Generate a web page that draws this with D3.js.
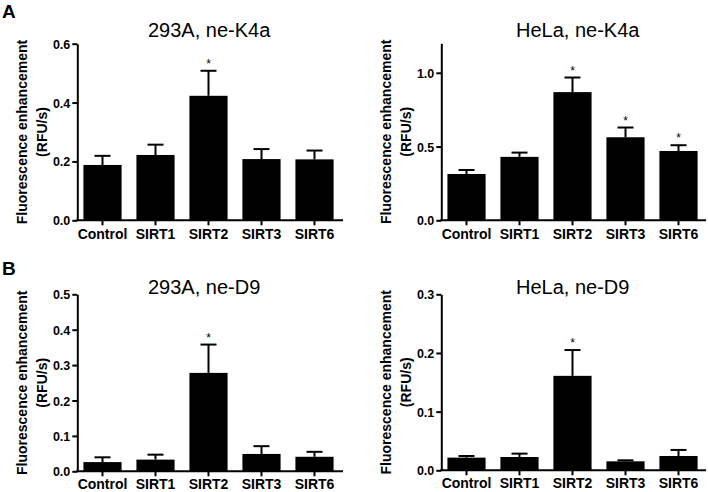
<!DOCTYPE html>
<html>
<head>
<meta charset="utf-8">
<script src="https://cdn.jsdelivr.net/npm/d3@7"></script>
<style>
  html, body { margin: 0; padding: 0; background: #fff; }
  svg { display: block; font-family: Arial, "Liberation Sans", Helvetica, sans-serif; }
</style>
</head>
<body>
<svg id="chart" width="708" height="492"></svg>
<script>
const categories = ["Control", "SIRT1", "SIRT2", "SIRT3", "SIRT6"];

const k4a293Mean = [0.188, 0.222, 0.423, 0.208, 0.207];
const k4a293Err  = [0.031, 0.035, 0.085, 0.034, 0.030];
const k4a293Sig  = [false, false, true, false, false];

const k4aHelaMean = [0.314, 0.430, 0.869, 0.563, 0.470];
const k4aHelaErr  = [0.027, 0.029, 0.099, 0.066, 0.039];
const k4aHelaSig  = [false, false, true, true, true];

const d9293Mean = [0.026, 0.033, 0.278, 0.049, 0.041];
const d9293Err  = [0.0135, 0.014, 0.080, 0.022, 0.014];
const d9293Sig  = [false, false, true, false, false];

const d9HelaMean = [0.0216, 0.0227, 0.161, 0.0153, 0.0244];
const d9HelaErr  = [0.0028, 0.0057, 0.044, 0.0017, 0.0103];
const d9HelaSig  = [false, false, true, false, false];

const k4a293Ticks  = [0, 0.2, 0.4, 0.6];
const k4aHelaTicks = [0, 0.5, 1.0];
const d9293Ticks   = [0, 0.1, 0.2, 0.3, 0.4, 0.5];
const d9HelaTicks  = [0, 0.1, 0.2, 0.3];

const yLabel1 = "Fluorescence enhancement";
const yLabel2 = "(RFU/s)";

const svg = d3.select("#chart");

const panels = [
  { title: "293A, ne-K4a", letter: "A", mean: k4a293Mean, err: k4a293Err, sig: k4a293Sig,
    ticks: k4a293Ticks, ymax: 0.6, ax: 77.3, x1: 343, y0: 220.3, yTop: 43.7, titleX: 148, titleY: 37, xPad: 4 },
  { title: "HeLa, ne-K4a", letter: null, mean: k4aHelaMean, err: k4aHelaErr, sig: k4aHelaSig,
    ticks: k4aHelaTicks, ymax: 1.2, ax: 441.3, x1: 706, y0: 220.3, yTop: 43.3, titleX: 516, titleY: 37, xPad: 4 },
  { title: "293A, ne-D9", letter: "B", mean: d9293Mean, err: d9293Err, sig: d9293Sig,
    ticks: d9293Ticks, ymax: 0.5, ax: 77.3, x1: 343, y0: 471.3, yTop: 294.3, titleX: 148, titleY: 294, xPad: 3 },
  { title: "HeLa, ne-D9", letter: null, mean: d9HelaMean, err: d9HelaErr, sig: d9HelaSig,
    ticks: d9HelaTicks, ymax: 0.3, ax: 441.3, x1: 706, y0: 470.3, yTop: 294.3, titleX: 516, titleY: 294, xPad: 3 }
];

panels.forEach((p) => {
  const g = svg.append("g");
  const x = d3.scaleBand().domain(categories)
    .range([p.ax - 1.3, p.ax - 1.3 + 265]).paddingInner(0.28).paddingOuter(0.14);
  const y = d3.scaleLinear().domain([0, p.ymax]).range([p.y0, p.yTop]);

  const data = categories.map((c, i) => ({ c, m: p.mean[i], e: p.err[i], s: p.sig[i] }));

  // error bars (upper only)
  const capW = 16;
  g.selectAll(".stem").data(data).join("line")
    .attr("x1", d => x(d.c) + x.bandwidth() / 2).attr("x2", d => x(d.c) + x.bandwidth() / 2)
    .attr("y1", d => y(d.m)).attr("y2", d => y(d.m + d.e))
    .attr("stroke", "#000").attr("stroke-width", 2);
  g.selectAll(".cap").data(data).join("line")
    .attr("x1", d => x(d.c) + x.bandwidth() / 2 - capW / 2).attr("x2", d => x(d.c) + x.bandwidth() / 2 + capW / 2)
    .attr("y1", d => y(d.m + d.e)).attr("y2", d => y(d.m + d.e))
    .attr("stroke", "#000").attr("stroke-width", 2);

  // bars
  g.selectAll(".bar").data(data).join("rect")
    .attr("x", d => x(d.c)).attr("width", x.bandwidth())
    .attr("y", d => y(d.m)).attr("height", d => y(0) - y(d.m))
    .attr("fill", "#000");

  // significance stars
  g.selectAll(".star").data(data.filter(d => d.s)).join("text")
    .attr("x", d => x(d.c) + x.bandwidth() / 2).attr("y", d => y(d.m + d.e) - 3)
    .attr("text-anchor", "middle").attr("font-size", 12).text("*");

  // y axis
  const yAxis = d3.axisLeft(y).tickValues(p.ticks).tickFormat(d3.format(".1f"))
    .tickSize(5).tickSizeOuter(0).tickPadding(2);
  const ya = g.append("g").attr("transform", `translate(${p.ax},0)`).call(yAxis);
  ya.select(".domain").attr("stroke-width", 2);
  ya.selectAll(".tick line").attr("stroke-width", 2);
  ya.selectAll(".tick text").attr("font-size", 12.5).attr("font-weight", "bold")
    .attr("font-family", "Arial, 'Liberation Sans', sans-serif").attr("dy", "0.36em");

  // x axis
  const xAxis = d3.axisBottom(x).tickSize(5).tickSizeOuter(0).tickPadding(p.xPad);
  const xa = g.append("g").attr("transform", `translate(0,${p.y0})`).call(xAxis);
  xa.select(".domain").attr("d", `M${p.ax - 1},0H${p.x1}`).attr("stroke-width", 2);
  xa.selectAll(".tick line").attr("stroke-width", 2);
  xa.selectAll(".tick text").attr("font-size", 14).attr("font-weight", "bold")
    .attr("font-family", "Arial, 'Liberation Sans', sans-serif");

  // y label
  const cy = (p.y0 + p.yTop) / 2;
  g.append("text").attr("transform", `translate(${p.ax - 50},${cy}) rotate(-90)`)
    .attr("text-anchor", "middle").attr("font-size", 14).attr("font-weight", "bold").text(yLabel1);
  g.append("text").attr("transform", `translate(${p.ax - 30},${cy}) rotate(-90)`)
    .attr("text-anchor", "middle").attr("font-size", 14).attr("font-weight", "bold").text(yLabel2);

  // title
  g.append("text").attr("x", p.titleX).attr("y", p.titleY)
    .attr("font-size", 20).text(p.title);

  if (p.letter) {
    g.append("text").attr("x", 2).attr("y", p.y0 < 300 ? 18 : 275)
      .attr("font-size", 19).attr("font-weight", "bold").text(p.letter);
  }
});
</script>
</body>
</html>
